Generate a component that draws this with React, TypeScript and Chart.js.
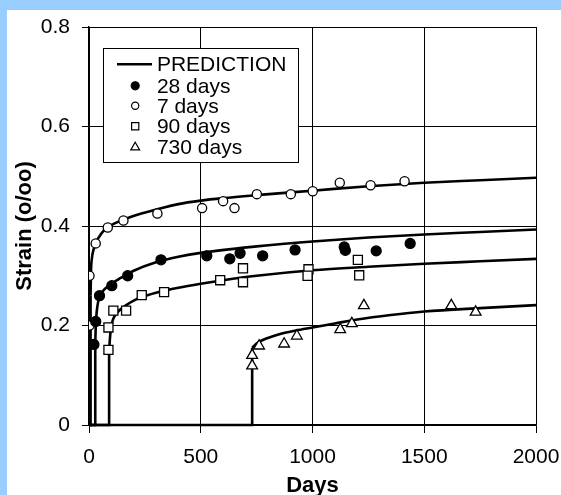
import React, { useEffect, useRef } from 'react';
import { Chart, registerables } from 'chart.js';

Chart.register(...registerables);

// ---- axis ticks ----
const xTickValues = [0, 500, 1000, 1500, 2000];
const xTickLabels = ['0', '500', '1000', '1500', '2000'];
const yTickValues = [0, 0.2, 0.4, 0.6, 0.8];
const yTickLabels = ['0', '0.2', '0.4', '0.6', '0.8'];

// ---- legend ----
const legendLabels = ['PREDICTION', '28 days', '7 days', '90 days', '730 days'];

// ---- measured data ----
const days28X = [22, 30, 47, 102, 173, 322, 527, 630, 676, 777, 922, 1142, 1147, 1285, 1437];
const days28Y = [0.162, 0.208, 0.26, 0.28, 0.3, 0.332, 0.34, 0.334, 0.345, 0.34, 0.352, 0.358, 0.351, 0.35, 0.365];

const days7X = [2, 2, 30, 84, 154, 306, 506, 600, 651, 751, 903, 1001, 1122, 1260, 1412];
const days7Y = [0.3, 0.2, 0.365, 0.397, 0.411, 0.425, 0.436, 0.45, 0.436, 0.464, 0.464, 0.47, 0.487, 0.482, 0.49];

const days90X = [87, 87, 109, 166, 236, 336, 587, 689, 689, 982, 978, 1203, 1209];
const days90Y = [0.151, 0.196, 0.23, 0.23, 0.261, 0.267, 0.291, 0.315, 0.287, 0.313, 0.3, 0.332, 0.301];

const days730X = [730, 730, 761, 873, 930, 1124, 1176, 1230, 1621, 1730];
const days730Y = [0.119, 0.14, 0.159, 0.163, 0.179, 0.192, 0.204, 0.24, 0.24, 0.227];

// ---- prediction curves ----
const pred7X = [7, 9, 13, 20, 30, 45, 65, 90, 150, 220, 300, 400, 500, 600, 750, 1000, 1250, 1500, 1750, 2000];
const pred7Y = [0.26, 0.31, 0.335, 0.352, 0.366, 0.378, 0.39, 0.399, 0.412, 0.423, 0.433, 0.444, 0.451, 0.456, 0.462, 0.471, 0.48, 0.487, 0.492, 0.497];

const pred28X = [28, 30, 33, 38, 45, 60, 80, 100, 140, 200, 300, 400, 500, 750, 1000, 1250, 1500, 1750, 2000];
const pred28Y = [0.165, 0.195, 0.22, 0.24, 0.255, 0.268, 0.277, 0.284, 0.295, 0.31, 0.327, 0.338, 0.346, 0.359, 0.369, 0.377, 0.383, 0.388, 0.393];

const pred90X = [90, 93, 97, 103, 110, 125, 140, 170, 200, 240, 300, 400, 500, 600, 750, 1000, 1250, 1500, 1750, 2000];
const pred90Y = [0.15, 0.17, 0.19, 0.205, 0.215, 0.225, 0.232, 0.242, 0.25, 0.258, 0.266, 0.276, 0.284, 0.291, 0.3, 0.311, 0.318, 0.324, 0.329, 0.334];

const pred730X = [730, 745, 760, 800, 855, 925, 1000, 1100, 1200, 1350, 1500, 1750, 2000];
const pred730Y = [0.155, 0.162, 0.167, 0.175, 0.183, 0.19, 0.196, 0.204, 0.212, 0.221, 0.228, 0.235, 0.241];

const FONT = '"Liberation Sans", Arial, Helvetica, sans-serif';

const toPts = (xs: number[], ys: number[]) => xs.map((x, i) => ({ x, y: ys[i] }));
const onset = (xs: number[], ys: number[]) => [
  { x: 0, y: 0 },
  { x: xs[0], y: 0 },
  { x: xs[0], y: ys[0] },
];

function drawMarker(ctx: CanvasRenderingContext2D, kind: string, x: number, y: number, r: number) {
  ctx.beginPath();
  if (kind === 'filled' || kind === 'open') {
    ctx.arc(x, y, r, 0, Math.PI * 2);
  } else if (kind === 'rect') {
    ctx.rect(x - r, y - r, 2 * r, 2 * r);
  } else {
    const h = r * 1.8;
    ctx.moveTo(x, y - h * 0.6);
    ctx.lineTo(x + r * 1.05, y + h * 0.4);
    ctx.lineTo(x - r * 1.05, y + h * 0.4);
    ctx.closePath();
  }
  ctx.fillStyle = kind === 'filled' ? '#000' : '#fff';
  ctx.fill();
  ctx.lineWidth = 1.2;
  ctx.strokeStyle = '#000';
  ctx.stroke();
}

const boxLegend = {
  id: 'boxLegend',
  afterDatasetsDraw(chart: any) {
    const ctx: CanvasRenderingContext2D = chart.ctx;
    const ca = chart.chartArea;
    const bx = Math.round(ca.left + 14) + 0.5;
    const by = Math.round(ca.top + 21) + 0.5;
    const bw = 195;
    const bh = 114;
    ctx.save();
    ctx.fillStyle = '#fff';
    ctx.fillRect(bx, by, bw, bh);
    ctx.strokeStyle = '#000';
    ctx.lineWidth = 1;
    ctx.strokeRect(bx, by, bw, bh);
    const rows = [15.8, 37.3, 57.3, 77.8, 98.3];
    const kinds = ['line', 'filled', 'open', 'rect', 'tri'];
    ctx.font = `21px ${FONT}`;
    ctx.textBaseline = 'middle';
    ctx.textAlign = 'left';
    legendLabels.forEach((lab, i) => {
      const y = by + rows[i];
      if (kinds[i] === 'line') {
        ctx.beginPath();
        ctx.moveTo(bx + 13.5, y);
        ctx.lineTo(bx + 48.5, y);
        ctx.lineWidth = 2.5;
        ctx.strokeStyle = '#000';
        ctx.stroke();
      } else {
        const r = kinds[i] === 'rect' ? 3.6 : kinds[i] === 'tri' ? 4.2 : kinds[i] === 'filled' ? 4 : 3.6;
        drawMarker(ctx, kinds[i], bx + 31.7, y, r);
      }
      ctx.fillStyle = '#000';
      ctx.fillText(lab, bx + 53.4, y + 1);
    });
    ctx.restore();
  },
};

const zeroPad = (s: any) => {
  s.paddingTop = 0;
  s.paddingBottom = 0;
  s.paddingLeft = 0;
  s.paddingRight = 0;
};

export default function App() {
  const ref = useRef<HTMLCanvasElement | null>(null);

  useEffect(() => {
    if (!ref.current) return;
    Chart.defaults.font.family = FONT;
    Chart.defaults.color = '#000';

    const lineBase = {
      showLine: true,
      pointRadius: 0,
      pointHoverRadius: 0,
      borderColor: '#000',
      backgroundColor: '#000',
      borderWidth: 2.6,
      clip: false as any,
      order: 2,
    };
    const pointBase = {
      showLine: false,
      borderColor: '#000',
      borderWidth: 1.3,
      order: 0,
    };

    const chart = new Chart(ref.current, {
      type: 'scatter',
      data: {
        datasets: [
          { ...pointBase, label: '28 days', data: toPts(days28X, days28Y), pointStyle: 'circle', pointRadius: 5, backgroundColor: '#000' },
          { ...pointBase, label: '7 days', data: toPts(days7X, days7Y), pointStyle: 'circle', pointRadius: 4.6, backgroundColor: '#fff' },
          { ...pointBase, label: '90 days', data: toPts(days90X, days90Y), pointStyle: 'rect', pointRadius: 6.4, backgroundColor: '#fff' },
          { ...pointBase, label: '730 days', data: toPts(days730X, days730Y), pointStyle: 'triangle', pointRadius: 6.2, backgroundColor: '#fff' },
          { ...lineBase, label: 'PREDICTION', data: toPts(pred7X, pred7Y), cubicInterpolationMode: 'monotone' },
          { ...lineBase, label: 'p28', data: toPts(pred28X, pred28Y), cubicInterpolationMode: 'monotone' },
          { ...lineBase, label: 'p90', data: toPts(pred90X, pred90Y), cubicInterpolationMode: 'monotone' },
          { ...lineBase, label: 'p730', data: toPts(pred730X, pred730Y), cubicInterpolationMode: 'monotone' },
          { ...lineBase, label: 'o7', data: onset(pred7X, pred7Y) },
          { ...lineBase, label: 'o28', data: onset(pred28X, pred28Y) },
          { ...lineBase, label: 'o90', data: onset(pred90X, pred90Y) },
          { ...lineBase, label: 'o730', data: onset(pred730X, pred730Y) },
        ] as any,
      },
      options: {
        animation: false,
        responsive: false,
        maintainAspectRatio: false,
        devicePixelRatio: 1,
        layout: { padding: { left: 0, right: 25, top: 17, bottom: 0 } },
        plugins: {
          legend: { display: false },
          tooltip: { enabled: false },
          title: { display: false },
        },
        scales: {
          x: {
            type: 'linear',
            min: 0,
            max: 2000,
            afterBuildTicks: (s: any) => {
              s.ticks = xTickValues.map((v) => ({ value: v }));
            },
            afterFit: (s: any) => {
              s.height = 70;
              zeroPad(s);
            },
            ticks: {
              font: { size: 21, family: FONT },
              color: '#000',
              padding: 12,
              maxRotation: 0,
              callback: (v: any) => xTickLabels[xTickValues.indexOf(Number(v))] ?? '',
            },
            grid: { color: '#000', lineWidth: 1, drawTicks: true, tickLength: 8, tickColor: '#000' },
            border: { display: true, color: '#000', width: 1.5 },
            title: {
              display: true,
              text: 'Days',
              font: { size: 22, weight: 'bold', family: FONT, lineHeight: 0.8 },
              color: '#000',
              padding: { top: 0, bottom: 0 },
            },
          },
          y: {
            type: 'linear',
            min: 0,
            max: 0.8,
            afterBuildTicks: (s: any) => {
              s.ticks = yTickValues.map((v) => ({ value: v }));
            },
            afterFit: (s: any) => {
              s.width = 82;
              zeroPad(s);
            },
            ticks: {
              font: { size: 21, family: FONT },
              color: '#000',
              padding: 12,
              callback: (v: any) => {
                const i = yTickValues.findIndex((t) => Math.abs(t - Number(v)) < 1e-9);
                return i >= 0 ? yTickLabels[i] : '';
              },
            },
            grid: { color: '#000', lineWidth: 1, drawTicks: true, tickLength: 7, tickColor: '#000' },
            border: { display: true, color: '#000', width: 1.5 },
            title: {
              display: true,
              text: 'Strain (o/oo)',
              font: { size: 22, weight: 'bold', family: FONT, lineHeight: 1 },
              color: '#000',
              padding: { top: 7, bottom: 0 },
            },
          },
        },
      } as any,
      plugins: [boxLegend],
    });
    return () => chart.destroy();
  }, []);

  return (
    <div style={{ position: 'fixed', left: 0, top: 0, width: 561, height: 495, background: '#99CCFF', overflow: 'hidden' }}>
      <canvas
        ref={ref}
        width={554}
        height={485}
        style={{ position: 'absolute', left: 7, top: 10, width: 554, height: 485, background: '#fff' }}
      />
    </div>
  );
}
